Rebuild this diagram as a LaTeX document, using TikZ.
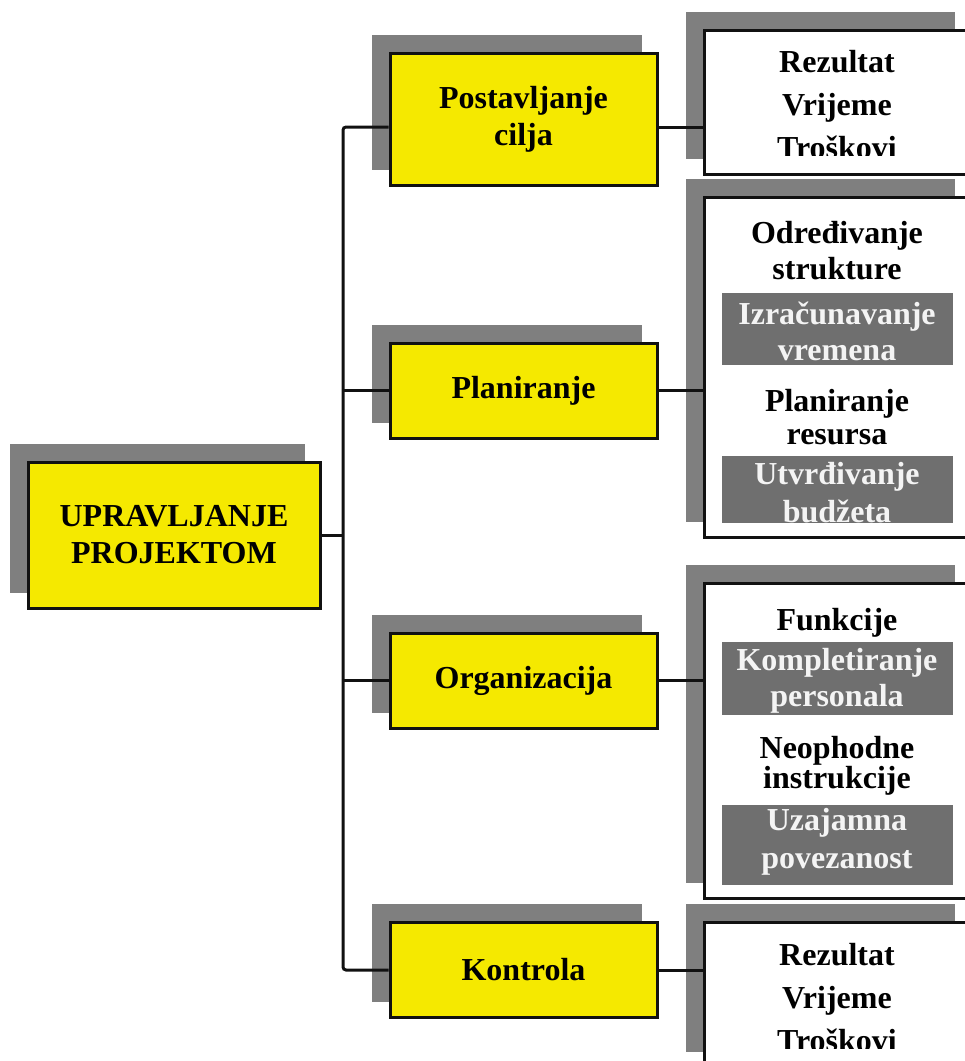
\documentclass[tikz,border=0pt]{standalone}
\usepackage{fontspec}
\setmainfont{Liberation Serif}
\usepackage{xcolor}
\usepackage{tikz}
\usetikzlibrary{calc,positioning,shadows}
\definecolor{upyellow}{HTML}{F5E900}
\definecolor{upshadow}{HTML}{7F7F7F}
\definecolor{upband}{HTML}{6F6F6F}
\definecolor{upline}{HTML}{111111}
\definecolor{upbandtext}{HTML}{F4F4F4}
\tikzset{
  box/.style={
    draw=upline,
    line width=3pt,
    align=center,
    inner sep=0pt,
    font=\bfseries\fontsize{32}{37}\selectfont,
    general shadow={fill=upshadow, draw=upshadow, line width=3pt,
      shadow xshift=-17pt, shadow yshift=17pt}
  },
  mainbox/.style={box, fill=upyellow, minimum width=292pt, minimum height=146pt},
  stagebox/.style={box, fill=upyellow, minimum width=267pt, minimum height=95pt},
  listbox/.style={box, fill=white, minimum width=266pt},
  itemtext/.style={
    align=center,
    inner sep=0pt,
    font=\bfseries\fontsize{32}{36}\selectfont
  },
  band/.style={fill=upband, minimum width=231pt, inner sep=0pt},
  bandtext/.style={itemtext, text=upbandtext},
  link/.style={draw=upline, line width=3pt}
}

\begin{document}
\begin{tikzpicture}[x=1pt, y=-1pt]
  \useasboundingbox (0,0) rectangle (965,1061);
  \clip (0,0) rectangle (965,1061);

  % root and stages
  \node[mainbox] (root) at (174,535) {UPRAVLJANJE\\PROJEKTOM};
  \node[stagebox, minimum height=132pt] (cilj) at (523.5,119) {Postavljanje\\cilja};
  \node[stagebox] (plan) at (523.5,390.5) {Planiranje};
  \node[stagebox] (org) at (523.5,680.5) {Organizacija};
  \node[stagebox] (kontr) at (523.5,970) {Kontrola};

  % lists on the right
  \node[listbox, minimum height=144pt] (ciljlist) at (837,102) {};
  \node[listbox, minimum height=340pt] (planlist) at (837,367) {};
  \node[listbox, minimum height=315pt] (orglist) at (837,740.5) {};
  \node[listbox, minimum height=145pt] (kontrlist) at (837,994.5) {};

  % tree lines
  \coordinate (trunk) at (343,535);
  \draw[link] (root.east) -- (trunk);
  \draw[link, rounded corners=3pt] ([yshift=-8pt]cilj.west) -| (trunk) |- (kontr.west);
  \draw[link] (plan.west) -- (plan.west -| trunk);
  \draw[link] (org.west) -- (org.west -| trunk);

  \draw[link] ([yshift=-8pt]cilj.east) -- ([yshift=-8pt]cilj.east -| ciljlist.west);
  \draw[link] (plan.east) -- (plan.east -| planlist.west);
  \draw[link] (org.east) -- (org.east -| orglist.west);
  \draw[link] (kontr.east) -- (kontr.east -| kontrlist.west);

  % Postavljanje cilja
  \begin{scope}
    \clip (ciljlist.north west) rectangle ([yshift=-127pt]ciljlist.north east);
    \node[itemtext, font=\bfseries\fontsize{32}{43}\selectfont] (ciljitems)
      at (837,105) {Rezultat\\Vrijeme\\Troškovi};
  \end{scope}

  % Planiranje
  \node[itemtext] (struk) at (837,251) {Određivanje\\strukture};
  \node[band, minimum height=72pt] (vrband) at (837.5,329) {};
  \node[bandtext] (vrem) at (837,331) {Izračunavanje\\vremena};
  \node[itemtext, font=\bfseries\fontsize{32}{33}\selectfont] (resur) at (837,417) {Planiranje\\resursa};
  \node[band, minimum height=67pt] (budband) at (837.5,489.5) {};
  \begin{scope}
    \clip (budband.north west) rectangle (budband.south east);
    \node[bandtext, font=\bfseries\fontsize{32}{38}\selectfont] (budz)
      at (837,493) {Utvrđivanje\\budžeta};
  \end{scope}

  % Organizacija
  \node[itemtext] (funk) at (837,623) {Funkcije};
  \node[band, minimum height=73pt] (persband) at (837.5,678.5) {};
  \node[bandtext] (pers) at (837,681) {Kompletiranje\\personala};
  \node[itemtext, font=\bfseries\fontsize{32}{30}\selectfont] (instr) at (837,766) {Neophodne\\instrukcije};
  \node[band, minimum height=80pt] (vezband) at (837.5,845) {};
  \node[bandtext, font=\bfseries\fontsize{32}{38}\selectfont] (veza) at (837,842) {Uzajamna\\povezanost};

  % Kontrola
  \begin{scope}
    \clip (kontrlist.north west) rectangle ([yshift=-128pt]kontrlist.north east);
    \node[itemtext, font=\bfseries\fontsize{32}{43}\selectfont] (kontritems)
      at (837,998) {Rezultat\\Vrijeme\\Troškovi};
  \end{scope}
\end{tikzpicture}
\end{document}
